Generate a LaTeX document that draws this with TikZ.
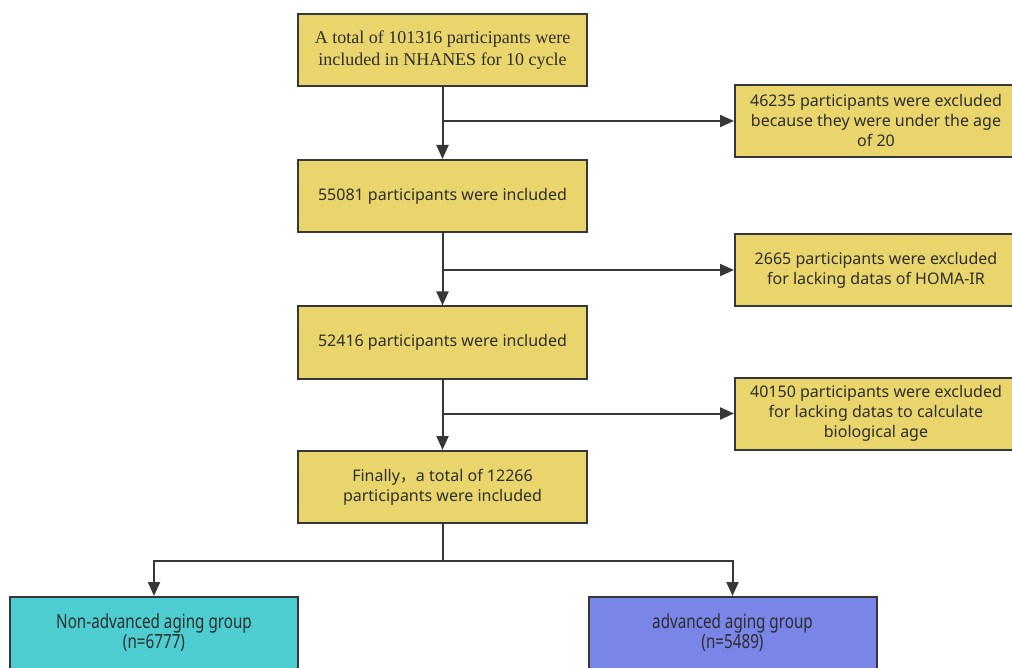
\documentclass[tikz,border=0pt]{standalone}
\usepackage{fontspec}
\setmainfont{Noto Sans}
\newfontfamily\serifbox{Liberation Serif}
\newfontfamily\narrowbox[FakeStretch=0.78]{Noto Sans}
\newfontfamily\cjkfont{Noto Sans CJK SC}
\usetikzlibrary{arrows.meta}
\definecolor{boxyellow}{RGB}{233,213,108}
\definecolor{boxcyan}{RGB}{78,205,208}
\definecolor{boxblue}{RGB}{122,133,232}
\definecolor{edgegray}{RGB}{55,55,55}
\definecolor{txtgray}{RGB}{45,45,45}
\tikzset{
  flowbox/.style={draw=edgegray, line width=2pt, fill=boxyellow, minimum width=289pt, minimum height=72pt,
    align=center, text=txtgray, font=\fontsize{16}{20}\selectfont, inner sep=0pt},
  sidebox/.style={flowbox, minimum width=282pt},
  groupbox/.style={flowbox, minimum width=288pt, font=\narrowbox\fontsize{19.5}{20}\selectfont},
  arr/.style={draw=edgegray, line width=2pt, -{Triangle[length=14pt,width=12pt]}},
  ln/.style={draw=edgegray, line width=2pt}
}
\begin{document}
\begin{tikzpicture}[x=1pt,y=-1pt]
\useasboundingbox (0,0) rectangle (1012,668);
\clip (0,0) rectangle (1012,668);
\fill[white] (0,0) rectangle (1012,668);
\node[flowbox, font=\serifbox\fontsize{18}{22}\selectfont] (b1) at (442.5,50) {A total of 101316 participants were\\included in NHANES for 10 cycle};
\node[flowbox] (b2) at (442.5,196) {55081 participants were included};
\node[flowbox] (b3) at (442.5,342.5) {52416 participants were included};
\node[flowbox] (b4) at (442.5,487) {Finally{\cjkfont ，}a total of 12266\\participants were included};
\node[sidebox] (sa) at (876,121) {46235 participants were excluded\\because they were under the age\\of 20};
\node[sidebox] (sb) at (876,270) {2665 participants were excluded\\for lacking datas of HOMA-IR};
\node[sidebox] (sc) at (876,413.5) {40150 participants were excluded\\for lacking datas to calculate\\biological age};
\node[groupbox, fill=boxcyan] (gl) at (154,633) {Non-advanced aging group\\(n=6777)};
\node[groupbox, fill=boxblue] (gr) at (732.5,633) {advanced aging group\\(n=5489)};
\draw[arr] (b1) -- (b2);
\draw[arr] (b2) -- (b3);
\draw[arr] (b3) -- (b4);
\draw[arr] (b1.south |- sa.west) -- (sa.west);
\draw[arr] (b2.south |- sb.west) -- (sb.west);
\draw[arr] (b3.south |- sc.west) -- (sc.west);
\coordinate (split) at (442.5,561);
\draw[ln] (b4.south) -- (split);
\draw[arr] (split) -| (gl.north);
\draw[arr] (split) -| (gr.north);
\end{tikzpicture}
\end{document}
